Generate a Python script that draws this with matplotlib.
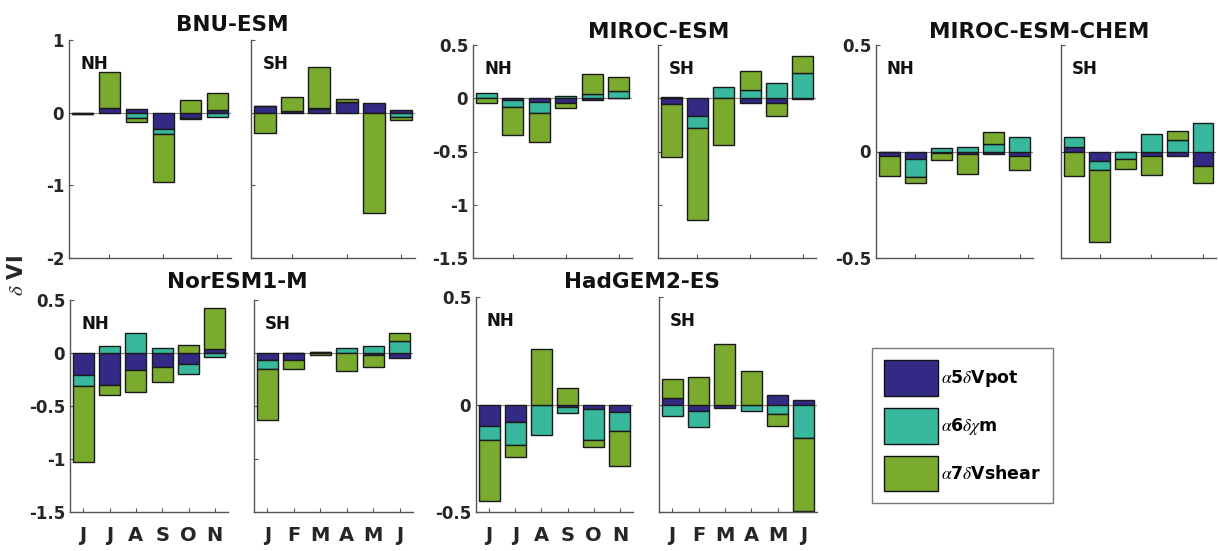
import matplotlib
matplotlib.use("Agg")
import matplotlib.pyplot as plt
import numpy as np

plt.rcParams['font.family'] = ['DejaVu Sans']
plt.rcParams['axes.unicode_minus'] = False
plt.rcParams['mathtext.fontset'] = 'stix'

# each panel: [alpha5 dVpot, alpha6 dchi_m, alpha7 dVshear] per month
months_nh = ['J', 'J', 'A', 'S', 'O', 'N']
months_sh = ['J', 'F', 'M', 'A', 'M', 'J']
labels = [r'$\alpha$5$\delta$Vpot', r'$\alpha$6$\delta\chi$m', r'$\alpha$7$\delta$Vshear']
colors = ['#332a86', '#38b99e', '#7aaa2e']

bnu_nh = [[-0.01, 0.06, 0.045, -0.23, -0.08, 0.035],
          [-0.005, 0.0, -0.07, -0.07, -0.01, -0.06],
          [-0.01, 0.5, -0.065, -0.66, 0.17, 0.24]]
bnu_sh = [[0.09, 0.02, 0.045, 0.14, 0.13, 0.03],
          [0.0, 0.005, 0.015, 0.01, -0.01, -0.055],
          [-0.28, 0.19, 0.57, 0.04, -1.37, -0.04]]
miroc_nh = [[0.0, -0.02, -0.035, -0.045, -0.015, 0.0],
            [0.045, -0.065, -0.105, 0.02, 0.04, 0.07],
            [-0.045, -0.26, -0.275, -0.045, 0.19, 0.125]]
miroc_sh = [[-0.05, -0.17, 0.0, -0.045, -0.045, -0.01],
            [0.015, -0.11, 0.11, 0.08, 0.14, 0.24],
            [-0.5, -0.86, -0.44, 0.18, -0.12, 0.155]]
chem_nh = [[-0.023, -0.036, -0.008, -0.012, -0.012, -0.019],
           [0.0, -0.083, 0.017, 0.023, 0.033, 0.066],
           [-0.092, -0.027, -0.03, -0.094, 0.06, -0.069]]
chem_sh = [[0.022, -0.045, -0.003, -0.02, -0.023, -0.07],
           [0.047, -0.042, -0.034, 0.083, 0.056, 0.136],
           [-0.116, -0.34, -0.047, -0.088, 0.038, -0.077]]
nor_nh = [[-0.21, -0.3, -0.165, -0.13, -0.1, 0.04],
          [-0.1, 0.07, 0.19, 0.045, -0.1, -0.035],
          [-0.72, -0.1, -0.2, -0.14, 0.08, 0.38]]
nor_sh = [[-0.065, -0.065, 0.01, 0.0, -0.02, -0.045],
          [-0.09, 0.0, 0.0, 0.045, 0.07, 0.11],
          [-0.48, -0.085, -0.02, -0.17, -0.11, 0.08]]
had_nh = [[-0.1, -0.08, 0.0, -0.012, -0.02, -0.037],
          [-0.065, -0.11, -0.143, -0.026, -0.145, -0.086],
          [-0.285, -0.055, 0.257, 0.076, -0.033, -0.164]]
had_sh = [[0.03, -0.028, -0.015, 0.0, 0.045, 0.019],
          [-0.055, -0.076, 0.0, -0.028, -0.042, -0.156],
          [0.09, 0.128, 0.28, 0.156, -0.058, -0.34]]

titles = ['BNU-ESM', 'MIROC-ESM', 'MIROC-ESM-CHEM', 'NorESM1-M', 'HadGEM2-ES']

W, H = 1219, 551
fig = plt.figure(figsize=(W / 100, H / 100), dpi=100)


def add_ax(x0, y0, x1, y1):
    # pixel box (left, top, right, bottom) -> figure fraction
    return fig.add_axes([x0 / W, 1 - y1 / H, (x1 - x0) / W, (y1 - y0) / H])


def draw_panel(ax, data, ylim, yticks, hemi, show_ylab, bottom_row, months):
    x = np.arange(1, 7)
    pos = np.zeros(6)
    neg = np.zeros(6)
    for vals, c in zip(data, colors):
        vals = np.array(vals)
        base = np.where(vals >= 0, pos, neg)
        ax.bar(x, vals, 0.8, bottom=base, color=c, edgecolor='#1a1a1a', linewidth=1.0, zorder=2)
        pos = pos + np.clip(vals, 0, None)
        neg = neg + np.clip(vals, None, 0)
    ax.axhline(0, color='#888888', lw=0.8, zorder=1)
    ax.set_xlim(0.5, 6.5)
    ax.set_ylim(*ylim)
    ax.set_yticks(yticks)
    for s in ['top', 'right']:
        ax.spines[s].set_visible(False)
    for s in ['left', 'bottom']:
        ax.spines[s].set_color('#555555')
        ax.spines[s].set_linewidth(1.0)
    ax.tick_params(direction='in', length=3, color='#555555', width=0.8)
    if show_ylab:
        ax.set_yticklabels([('%g' % t) for t in yticks], fontsize=12, fontweight='bold', color='#262626')
    else:
        ax.set_yticklabels([])
    if bottom_row:
        ax.set_xticks(x)
        ax.set_xticklabels(months, fontsize=14, fontweight='bold', color='#262626')
        ax.tick_params(axis='x', pad=10)
    else:
        ax.set_xticks([2, 4, 6])
        ax.set_xticklabels([])
    ax.text(0.07, 0.93, hemi, transform=ax.transAxes, fontsize=12, fontweight='bold',
            va='top', ha='left', color='#111111')


# top row
panels_top = [
    (bnu_nh, bnu_sh, (-2, 1), [-2, -1, 0, 1], (69, 231), (251, 415), 40),
    (miroc_nh, miroc_sh, (-1.5, 0.5), [-1.5, -1, -0.5, 0, 0.5], (473, 632), (658, 816), 45),
    (chem_nh, chem_sh, (-0.5, 0.5), [-0.5, 0, 0.5], (876, 1033), (1061, 1216), 45),
]
for nh, sh, yl, yt, xn, xs, top in panels_top:
    a = add_ax(xn[0], top, xn[1], 258)
    draw_panel(a, nh, yl, yt, 'NH', True, False, months_nh)
    b = add_ax(xs[0], top, xs[1], 258)
    draw_panel(b, sh, yl, yt, 'SH', False, False, months_sh)

panels_bot = [
    (nor_nh, nor_sh, (-1.5, 0.5), [-1.5, -1, -0.5, 0, 0.5], (70, 228), (254, 413), 300),
    (had_nh, had_sh, (-0.5, 0.5), [-0.5, 0, 0.5], (476, 633), (659, 817), 297),
]
for nh, sh, yl, yt, xn, xs, top in panels_bot:
    a = add_ax(xn[0], top, xn[1], 512)
    draw_panel(a, nh, yl, yt, 'NH', True, True, months_nh)
    b = add_ax(xs[0], top, xs[1], 512)
    draw_panel(b, sh, yl, yt, 'SH', False, True, months_sh)

# model titles
title_pos = [(232, 25), (659, 32), (1039, 32), (237, 282), (642, 282)]
for t, (tx, ty) in zip(titles, title_pos):
    fig.text(tx / W, 1 - ty / H, t, fontsize=15.5, fontweight='bold', ha='center', va='center', color='#111111')

fig.text(17 / W, 1 - 276 / H, r'$\delta$ VI', rotation=90, fontsize=15, fontweight='bold',
         ha='center', va='center', color='#262626')

# legend
handles = [plt.Rectangle((0, 0), 1, 1, facecolor=c, edgecolor='#111111', lw=1.0) for c in colors]
fig.legend(handles, labels, loc='upper left', bbox_to_anchor=(872 / W, 1 - 348 / H),
           prop={'size': 12.5, 'weight': 'bold'}, frameon=True, fancybox=False, edgecolor='#555555',
           handlelength=3.1, handleheight=2.78, labelspacing=0.7, handletextpad=0.2, borderpad=0.7,
           borderaxespad=0)

fig.savefig('out.png', dpi=100)
